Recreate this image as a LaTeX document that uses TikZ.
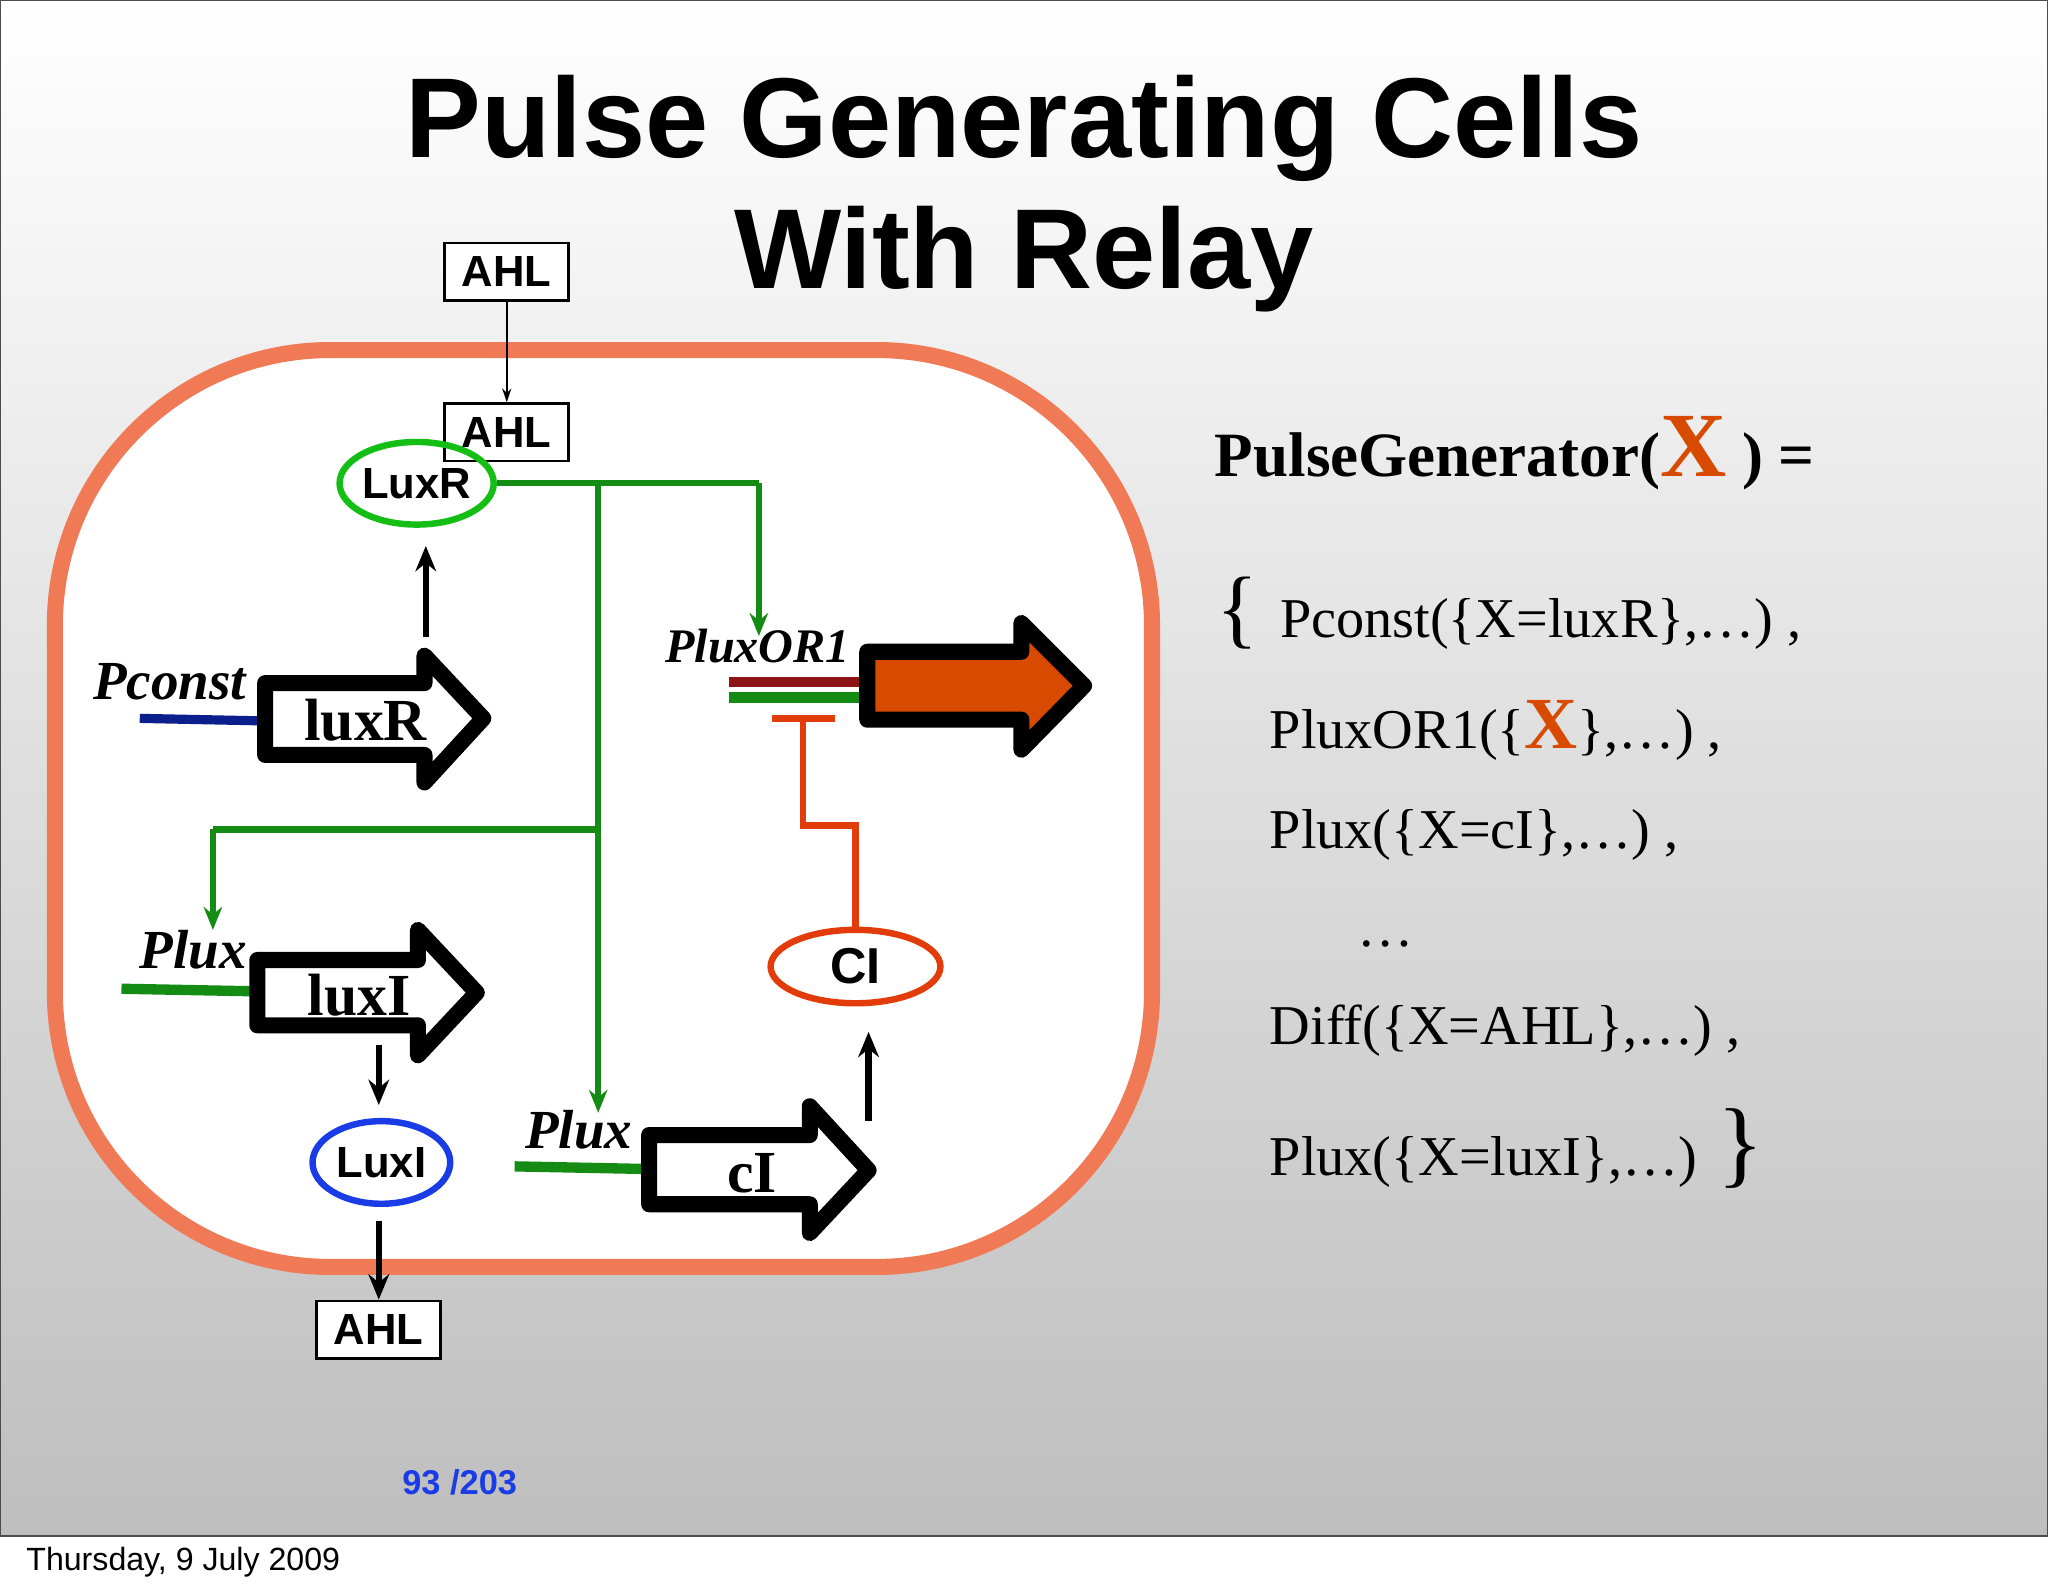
\documentclass[tikz,border=0pt]{standalone}
\usepackage{fontspec}
\setmainfont{Liberation Serif}
\newfontfamily\sff{Liberation Sans}
\usetikzlibrary{arrows.meta,shapes.geometric}
\definecolor{org}{RGB}{240,122,85}
\definecolor{grn}{RGB}{20,140,20}
\definecolor{lgrn}{RGB}{20,190,20}
\definecolor{blu}{RGB}{25,60,230}
\definecolor{cired}{RGB}{225,60,10}
\definecolor{big}{RGB}{216,74,0}
\definecolor{navy}{RGB}{10,30,140}
\definecolor{dred}{RGB}{140,20,20}
\begin{document}
\begin{tikzpicture}[x=0.02cm,y=-0.02cm,
  box/.style={draw,line width=1.2pt,fill=white,font=\sff\bfseries\fontsize{19}{19}\selectfont,minimum width=54pt,minimum height=25pt,inner sep=0pt},
  gl/.style={grn,line width=2.8pt},
  gla/.style={gl,-{Stealth[length=10pt,width=8pt]}},
  ka/.style={line width=2.8pt,-{Stealth[length=11pt,width=9pt]}},
  gene/.style={line width=7pt,line join=round,fill=white},
  gtxt/.style={font=\bfseries\fontsize{26}{26}\selectfont},
  prom/.style={font=\bfseries\itshape\fontsize{24}{24}\selectfont},
  rt/.style={anchor=base west,font=\fontsize{24.5}{24.5}\selectfont}]
\useasboundingbox (0,0) rectangle (1568,1220);
\fill[white] (0,0) rectangle (1568,1220);
\shade[top color=white,bottom color={rgb,255:red,190;green,190;blue,190},draw=black!70,line width=0.6pt] (0,0) rectangle (1568,1176);
\node[anchor=west,font=\sff\fontsize{14}{14}\selectfont] (date) at (14,1196) {Thursday, 9 July 2009};
\node[align=center,font=\sff\bfseries\fontsize{49.5}{57}\selectfont] (title) at (784,148) {Pulse Generating Cells\\With Relay};
% cell
\draw[org,line width=7pt,fill=white,rounded corners=120] (42,268) rectangle (882,970);
% AHL boxes
\node[box] (ahl1) at (388,208) {AHL};
\node[box] (ahl2) at (388,331) {AHL};
\draw[line width=0.8pt,-{Stealth[length=6pt,width=4pt]}] (ahl1) -- (ahl2);
\node[draw=lgrn,line width=2.8pt,ellipse,inner sep=0pt,minimum width=58pt,minimum height=36pt,font=\sff\bfseries\fontsize{19}{19}\selectfont] (luxr) at (319,370) {LuxR};
% green lines
\coordinate (j1) at (458,370);
\coordinate (j2) at (581,370);
\coordinate (j3) at (458,635);
\coordinate (j4) at (163,635);
\draw[gl] (luxr.east) -- (j2);
\draw[gla] (j2) -- (581,487);
\draw[gla] (j1) -- (458,852);
\draw[gl] (j3) -- (j4);
\draw[gla] (j4) -- (163,712);
% luxR gene
\draw[navy,line width=4pt] (107,550) -- (205,552);
\node[prom] (pconst) at (130,522) {Pconst};
\draw[gene] (203,523) -- (325,523) -- (325,502) -- (370,550) -- (325,599) -- (325,578) -- (203,578) -- cycle;
\node[gtxt] (gluxr) at (280,551) {luxR};
\draw[ka] (326,488) -- (326,418);
% luxI gene
\node[prom] (plux1) at (148,727) {Plux};
\draw[grn,line width=4.5pt] (93,757) -- (197,759);
\draw[gene] (197,735) -- (320,735) -- (320,712) -- (365,760) -- (320,808) -- (320,785) -- (197,785) -- cycle;
\node[gtxt] (gluxi) at (275,762) {luxI};
\draw[ka] (290,800) -- (290,846);
\node[draw=blu,line width=2.8pt,ellipse,inner sep=0pt,minimum width=60pt,minimum height=36pt,font=\sff\bfseries\fontsize{19}{19}\selectfont] (luxi) at (292,890) {LuxI};
\node[box] (ahl3) at (290,1018) {AHL};
\draw[ka] (290,935) -- (ahl3.north);
% cI gene
\node[prom] (plux2) at (443,865) {Plux};
\draw[grn,line width=4.5pt] (394,893) -- (495,895);
\draw[gene] (497,869) -- (620,869) -- (620,847) -- (665,896) -- (620,944) -- (620,922) -- (497,922) -- cycle;
\node[gtxt] (gci) at (576,898) {cI};
\draw[ka] (665,858) -- (665,790);
\node[draw=cired,line width=2.8pt,ellipse,inner sep=0pt,minimum width=74pt,minimum height=32pt,font=\sff\bfseries\fontsize{22}{22}\selectfont] (ci) at (655,740) {CI};
\draw[cired,line width=2.8pt] (ci.north) -- (655,632) -- (615,632) -- (615,550);
\draw[cired,line width=2.8pt] (591,550) -- (639,550);
% PluxOR1
\node[prom,font=\bfseries\itshape\fontsize{21}{21}\selectfont] (por) at (580,495) {PluxOR1};
\draw[dred,line width=4.5pt] (558,522) -- (662,522);
\draw[grn,line width=5pt] (558,534) -- (662,534);
\draw[gene,fill=big] (664,499) -- (782,499) -- (782,477) -- (830,525) -- (782,574) -- (782,551) -- (664,551) -- cycle;
% right text
\node[rt,font=\bfseries\fontsize{27.5}{27.5}\selectfont] (pg) at (924,365) {PulseGenerator(\textcolor{big}{\fontsize{40}{40}\selectfont X}~) =};
\node[rt,font=\fontsize{38}{38}\selectfont] (lb) at (925,488) {\{};
\node[rt] (l1) at (974,488) {Pconst(\{X=luxR\},\dots) ,};
\node[rt] (l2) at (966,573) {PluxOR1(\{\textcolor{big}{\bfseries\fontsize{32}{32}\selectfont X}\},\dots) ,};
\node[rt] (l3) at (966,650) {Plux(\{X=cI\},\dots) ,};
\node[rt] (l4) at (1033,725) {\dots};
\node[rt] (l5) at (966,800) {Diff(\{X=AHL\},\dots) ,};
\node[rt] (l6) at (966,900) {Plux(\{X=luxI\},\dots)};
\node[rt,font=\fontsize{42}{42}\selectfont] (rb) at (1309,900) {\}};
\node[font=\sff\bfseries\fontsize{15}{15}\selectfont,text=blu] (pn) at (352,1135) {93 /203};
\end{tikzpicture}
\end{document}
